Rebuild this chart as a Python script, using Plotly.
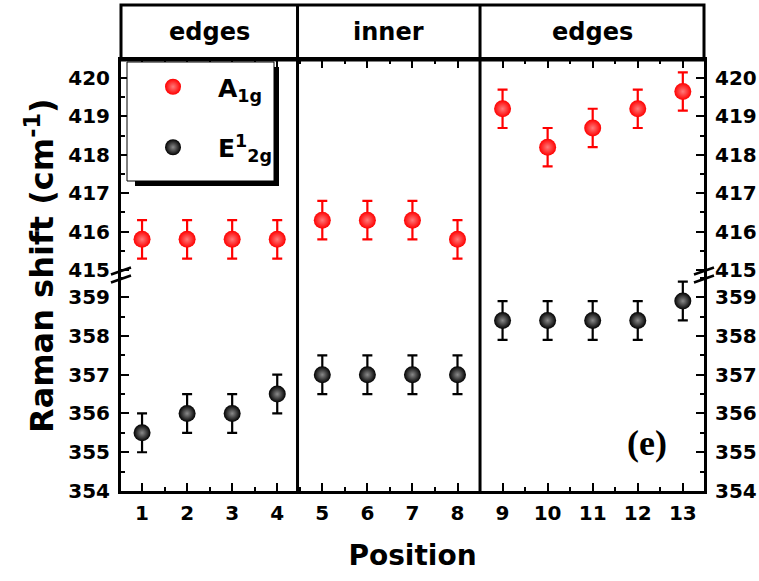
import plotly.graph_objects as go

# Measurement positions across the flake and fitted Raman peak positions (cm^-1)
positions = list(range(1, 14))
a1g_shift = [415.8, 415.8, 415.8, 415.8, 416.3, 416.3, 416.3, 415.8,
             419.2, 418.2, 418.7, 419.2, 419.65]
a1g_err = [0.5] * 13
e2g_shift = [355.5, 356.0, 356.0, 356.5, 357.0, 357.0, 357.0, 357.0,
             358.4, 358.4, 358.4, 358.4, 358.9]
e2g_err = [0.5] * 13

# Region headers and the boundaries between regions
region_names = ["edges", "inner", "edges"]
region_bounds = [4.45, 8.5]

X_RANGE = [0.533, 13.47]
Y_LOW = [354, 359.57]
Y_HIGH = [414.87, 420.47]
SPLIT = 0.501

SANS = "DejaVu Sans"
W, H = 759, 581
L, R, T, B = 121, 55, 60, 90
PW, PH = W - L - R, H - T - B


def px(xp):
    return (xp - L) / PW


def py(yp):
    return (H - B - yp) / PH


fig = go.Figure()

fig.add_trace(go.Scatter(
    x=positions, y=a1g_shift, xaxis="x2", yaxis="y2", mode="markers",
    name="A<sub>1g</sub>", legendgroup="a",
    marker=dict(size=17, color="#ff0000",
                gradient=dict(type="radial", color="#ff7a7a")),
    error_y=dict(type="data", array=a1g_err, color="#ff0000",
                 thickness=2.2, width=5),
))
fig.add_trace(go.Scatter(
    x=positions, y=e2g_shift, xaxis="x", yaxis="y", mode="markers",
    name="E<sup>1</sup><sub>2g</sub>", legendgroup="b",
    marker=dict(size=17, color="#000000",
                gradient=dict(type="radial", color="#8a8a8a")),
    error_y=dict(type="data", array=e2g_err, color="#000000",
                 thickness=2.2, width=5),
))
# transparent copies so the mirrored right-hand axes get drawn
for ys, ax in ((a1g_shift, "y4"), (e2g_shift, "y3")):
    fig.add_trace(go.Scatter(
        x=positions, y=ys, xaxis="x2" if ax == "y4" else "x", yaxis=ax,
        mode="markers", marker=dict(opacity=0), showlegend=False,
        hoverinfo="skip"))

tick_font = dict(family=SANS, size=20, color="black", weight="bold")
common_x = dict(showline=True, linewidth=3, linecolor="black", showgrid=False,
                zeroline=False, ticks="inside", ticklen=8, tickwidth=2,
                tickcolor="black", tick0=1, dtick=1, automargin=False,
                minor=dict(ticks="inside", ticklen=4, tickwidth=2,
                           tickcolor="black", dtick=0.5, tick0=0.5))
common_y = dict(showline=True, linewidth=3, linecolor="black", showgrid=False,
                zeroline=False, ticks="inside", ticklen=8, tickwidth=2,
                tickcolor="black", dtick=1, tickfont=tick_font,
                ticklabelstandoff=4, automargin=False,
                minor=dict(ticks="inside", ticklen=4, tickwidth=2,
                           tickcolor="black", dtick=0.5))

fig.update_layout(
    width=W, height=H,
    margin=dict(l=L, r=R, t=T, b=B, autoexpand=False),
    plot_bgcolor="white", paper_bgcolor="white",
    xaxis=dict(domain=[0, 1], range=X_RANGE, anchor="y", tickfont=tick_font,
               ticklabelstandoff=2,
               title=dict(text="Position", standoff=22,
                          font=dict(family=SANS, size=28, color="black",
                                    weight="bold")),
               **common_x),
    xaxis2=dict(domain=[0, 1], anchor="y2", side="top", matches="x",
                showticklabels=False, **common_x),
    yaxis=dict(domain=[0, SPLIT], range=Y_LOW, anchor="x", tick0=354,
               **common_y),
    yaxis2=dict(domain=[SPLIT, 1], range=Y_HIGH, anchor="x2", tick0=415,
                **common_y),
    yaxis3=dict(overlaying="y", side="right", matches="y", anchor="x",
                tick0=354, **common_y),
    yaxis4=dict(overlaying="y2", side="right", matches="y2", anchor="x2",
                tick0=415, **common_y),
    legend=dict(x=px(128), y=py(64), xanchor="left", yanchor="top",
                bgcolor="rgba(0,0,0,0)", borderwidth=0,
                font=dict(family=SANS, size=25, color="black", weight="bold"),
                tracegroupgap=25, itemsizing="trace", itemwidth=80),
)

shapes = []
# legend frame with drop shadow
shapes.append(dict(type="rect", xref="paper", yref="paper",
                   x0=px(135), x1=px(279), y0=py(186), y1=py(67),
                   fillcolor="black", line=dict(width=0), layer="above"))
shapes.append(dict(type="rect", xref="paper", yref="paper",
                   x0=px(127), x1=px(274), y0=py(181), y1=py(62),
                   fillcolor="white", line=dict(color="black", width=1),
                   layer="above"))
# header band across the top
HEADER_TOP = py(5)
shapes.append(dict(type="rect", xref="paper", yref="paper",
                   x0=0, x1=1, y0=1, y1=HEADER_TOP,
                   line=dict(color="black", width=3), layer="above"))
# region separators
for xb in region_bounds:
    shapes.append(dict(type="line", xref="x", yref="paper",
                       x0=xb, x1=xb, y0=0, y1=HEADER_TOP,
                       line=dict(color="black", width=3), layer="above"))
# axis-break marks on both vertical axes
for xa in (L, L + PW):
    for yc in (271, 279):
        shapes.append(dict(type="line", xref="paper", yref="paper",
                           x0=px(xa - 10), y0=py(yc + 3.5),
                           x1=px(xa + 10), y1=py(yc - 3.5),
                           line=dict(color="black", width=2.5),
                           layer="above"))
fig.update_layout(shapes=shapes)

annotations = []
edges = [X_RANGE[0]] + region_bounds + [X_RANGE[1]]
for name, a, b in zip(region_names, edges[:-1], edges[1:]):
    annotations.append(dict(text=name, xref="x", yref="paper",
                            x=(a + b) / 2, y=py(32), showarrow=False,
                            xanchor="center", yanchor="middle",
                            font=dict(family=SANS, size=24, color="black",
                                      weight="bold")))
annotations.append(dict(text="Raman shift (cm<sup>-1</sup>)", xref="paper",
                        yref="paper", x=px(40), y=py(266), textangle=-90,
                        showarrow=False, xanchor="center", yanchor="middle",
                        font=dict(family=SANS, size=32, color="black",
                                  weight="bold")))
annotations.append(dict(text="(e)", xref="paper", yref="paper",
                        x=px(647), y=py(443), showarrow=False,
                        xanchor="center", yanchor="middle",
                        font=dict(family="Liberation Serif", size=36,
                                  color="black", weight="bold")))
fig.update_layout(annotations=annotations)

fig.write_html("out.html")
